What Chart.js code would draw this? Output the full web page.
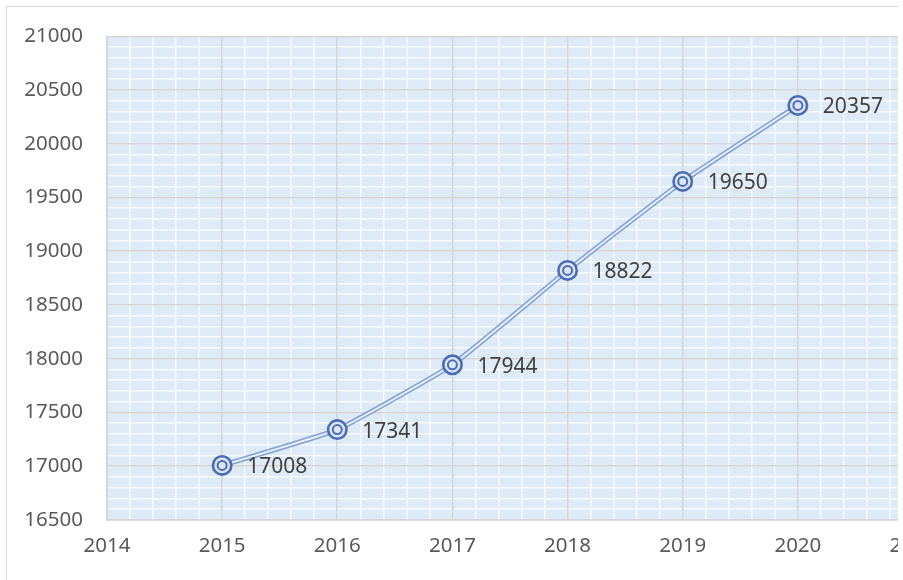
<!DOCTYPE html>
<html>
<head>
<meta charset="utf-8">
<script src="https://cdn.jsdelivr.net/npm/chart.js@4"></script>
<style>
  html, body { margin: 0; padding: 0; background: #ffffff; overflow: hidden; }
  #clip { position: absolute; left: 0; top: 0; width: 898px; height: 580px; overflow: hidden; }
  #frame { position: absolute; left: 6px; top: 6px; width: 1000px; height: 1000px;
           border-left: 1.5px solid #D9D9D9; border-top: 1.5px solid #D9D9D9; }
  canvas { position: absolute; left: 0; top: 0; }
</style>
</head>
<body>
<div id="clip">
  <div id="frame"></div>
  <canvas id="c" width="960" height="580"></canvas>
</div>
<script>
const years = [2015, 2016, 2017, 2018, 2019, 2020];
const values = [17008, 17341, 17944, 18822, 19650, 20357];
const xMin = 2014, xMax = 2021;
const yMin = 16500, yMax = 21000, yStep = 500;

const pts = years.map((y, i) => ({ x: y, y: values[i] }));
const FONT = "'Noto Sans', 'Open Sans', sans-serif";

const bgPlugin = {
  id: 'plotBg',
  beforeDraw(chart) {
    const a = chart.chartArea, ctx = chart.ctx;
    ctx.save();
    ctx.fillStyle = '#DEEAF6';
    ctx.fillRect(a.left, a.top, a.right - a.left, a.bottom - a.top);
    ctx.restore();
  }
};

const labelPlugin = {
  id: 'valLabels',
  afterDatasetsDraw(chart) {
    const meta = chart.getDatasetMeta(2);
    const ctx = chart.ctx;
    ctx.save();
    ctx.font = '21px ' + FONT;
    ctx.fillStyle = '#404040';
    ctx.textAlign = 'left';
    ctx.textBaseline = 'middle';
    meta.data.forEach((el, i) => {
      ctx.fillText(String(values[i]), el.x + 25, el.y + 2);
    });
    ctx.restore();
  }
};

new Chart(document.getElementById('c'), {
  type: 'line',
  data: {
    datasets: [
      { data: pts, order: 4, borderColor: '#82A2D8', borderWidth: 5, pointRadius: 0, tension: 0.12, fill: false, xAxisID: 'x', yAxisID: 'y' },
      { data: pts, order: 3, borderColor: '#EEF3FB', borderWidth: 1.8, pointRadius: 0, tension: 0.12, fill: false, xAxisID: 'x', yAxisID: 'y' },
      { data: pts, order: 2, showLine: false, pointRadius: 9.2, pointBorderWidth: 2.6, pointBorderColor: '#4A6DB5', pointBackgroundColor: '#DCE6F4', pointHoverRadius: 9.2, xAxisID: 'x', yAxisID: 'y' },
      { data: pts, order: 1, showLine: false, pointRadius: 4.5, pointBorderWidth: 2, pointBorderColor: '#4A6DB5', pointBackgroundColor: 'rgba(0,0,0,0)', pointHoverRadius: 4.5, xAxisID: 'x', yAxisID: 'y' }
    ]
  },
  options: {
    responsive: false,
    animation: false,
    events: [],
    layout: { padding: { left: 0, top: 35, right: 47, bottom: 0 } },
    plugins: { legend: { display: false }, tooltip: { enabled: false } },
    scales: {
      xMinor: {
        type: 'linear', position: 'bottom', min: xMin, max: xMax, z: -1,
        ticks: { display: false, stepSize: 0.2 },
        grid: { color: '#F6F9FD', lineWidth: 1.6, drawTicks: false },
        border: { display: false },
        afterFit(s) { s.height = 0; }
      },
      yMinor: {
        type: 'linear', position: 'left', min: yMin, max: yMax, z: -1,
        ticks: { display: false, stepSize: 100 },
        grid: { color: '#F6F9FD', lineWidth: 1.6, drawTicks: false },
        border: { display: false },
        afterFit(s) { s.width = 0; }
      },
      x: {
        type: 'linear', position: 'bottom', min: xMin, max: xMax,
        ticks: { stepSize: 1, color: '#595959', font: { family: FONT, size: 20.5 }, padding: 14,
                 callback: v => String(v) },
        grid: { color: '#D5D5D5', lineWidth: 1.6, drawTicks: false },
        border: { display: true, color: '#D5D5D5', width: 1.6 },
        afterFit(s) { s.height = 60; }
      },
      y: {
        type: 'linear', position: 'left', min: yMin, max: yMax,
        ticks: { stepSize: yStep, color: '#595959', font: { family: FONT, size: 20.5 }, padding: 24,
                 callback: v => String(v) },
        grid: { color: '#D5D5D5', lineWidth: 1.6, drawTicks: false },
        border: { display: true, color: '#D5D5D5', width: 1.6 },
        afterFit(s) { s.width = 107; }
      }
    }
  },
  plugins: [bgPlugin, labelPlugin]
});
</script>
</body>
</html>
